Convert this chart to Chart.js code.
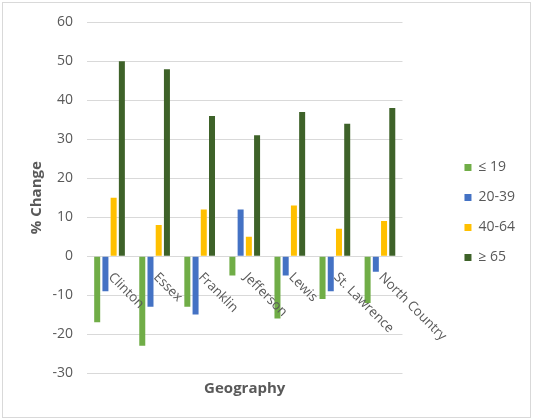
<!DOCTYPE html>
<html>
<head>
<meta charset="utf-8">
<script src="https://cdn.jsdelivr.net/npm/chart.js@4.4.1/dist/chart.umd.min.js"></script>
<style>
html, body { margin: 0; padding: 0; background: #fff; }
#wrap { position: relative; width: 533px; height: 419px; }
#frame { position: absolute; left: 2px; top: 2px; width: 527px; height: 414px; border: 1px solid #d9d9d9; pointer-events: none; }
</style>
</head>
<body>
<div id="wrap"><canvas id="chart" width="533" height="419"></canvas><div id="frame"></div></div>
<script>
var categories = ['Clinton', 'Essex', 'Franklin', 'Jefferson', 'Lewis', 'St. Lawrence', 'North Country'];
var seriesNames = ['\u2264 19', '20-39', '40-64', '\u2265 65'];
var under19 = [-17, -23, -13, -5, -16, -11, -12];
var age20to39 = [-9, -13, -15, 12, -5, -9, -4];
var age40to64 = [15, 8, 12, 5, 13, 7, 9];
var over65 = [50, 48, 36, 31, 37, 34, 38];
var yMin = -30, yMax = 60, yStep = 10;

var textGray = '#595959';
var fontFamily = '"Open Sans", sans-serif';

// category names sit under the zero line, turned 45 degrees
var zeroLineLabels = {
    id: 'zeroLineLabels',
    afterDatasetsDraw: function(chart) {
        var ctx = chart.ctx;
        var xs = chart.scales.x;
        var y0 = chart.scales.y.getPixelForValue(0);
        ctx.save();
        ctx.font = '13.3px ' + fontFamily;
        ctx.fillStyle = textGray;
        ctx.textAlign = 'left';
        ctx.textBaseline = 'middle';
        categories.forEach(function(name, i) {
            ctx.save();
            ctx.translate(xs.getPixelForValue(i) + 1, y0 + 19);
            ctx.rotate(Math.PI / 4);
            ctx.fillText(name, 0, 0);
            ctx.restore();
        });
        ctx.restore();
    }
};

function makeSet(label, data, color) {
    return {
        label: label,
        data: data,
        backgroundColor: color,
        borderWidth: 0,
        categoryPercentage: 0.73,
        barPercentage: 0.73
    };
}

new Chart(document.getElementById('chart'), {
    type: 'bar',
    data: {
        labels: categories,
        datasets: [
            makeSet(seriesNames[0], under19, '#70ad47'),
            makeSet(seriesNames[1], age20to39, '#4472c4'),
            makeSet(seriesNames[2], age40to64, '#ffc000'),
            makeSet(seriesNames[3], over65, '#3e6229')
        ]
    },
    options: {
        responsive: false,
        animation: false,
        devicePixelRatio: 1,
        layout: { padding: { left: 24, right: 8, top: 22, bottom: 16 } },
        plugins: {
            tooltip: { enabled: false },
            legend: {
                position: 'right',
                labels: {
                    boxWidth: 7,
                    boxHeight: 7,
                    padding: 16,
                    color: textGray,
                    font: { family: fontFamily, size: 14 }
                }
            }
        },
        scales: {
            x: {
                grid: { display: false },
                border: { display: false },
                ticks: { display: false },
                title: {
                    display: true,
                    text: 'Geography',
                    color: textGray,
                    font: { family: fontFamily, size: 15, weight: 'bold' },
                    padding: { top: 0, bottom: 5 }
                },
                afterFit: function(s) { s.height = 30; }
            },
            y: {
                min: yMin,
                max: yMax,
                grid: { color: '#d9d9d9', drawTicks: false },
                border: { display: false },
                ticks: {
                    stepSize: yStep,
                    padding: 14,
                    color: textGray,
                    font: { family: fontFamily, size: 14 }
                },
                title: {
                    display: true,
                    text: '% Change',
                    color: textGray,
                    font: { family: fontFamily, size: 15, weight: 'bold' },
                    padding: { top: 4, bottom: 0 }
                },
                afterFit: function(s) { s.width = 63; }
            },
            gap: {
                position: 'right',
                grid: { display: false },
                border: { display: false },
                ticks: { display: false },
                afterFit: function(s) { s.width = 46; }
            }
        }
    },
    plugins: [zeroLineLabels]
});
</script>
</body>
</html>
